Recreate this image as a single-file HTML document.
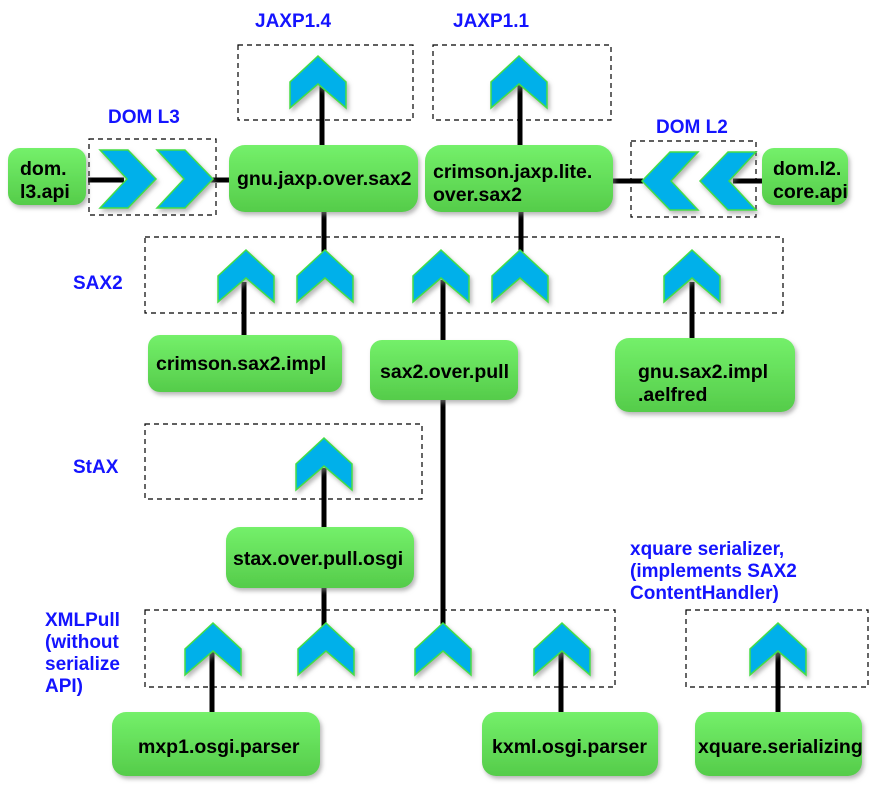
<!DOCTYPE html>
<html><head><style>
body{margin:0;background:#fff;width:890px;height:792px;overflow:hidden}
svg text{font-family:"Liberation Sans",sans-serif;font-weight:bold}
</style></head><body>
<svg width="890" height="792" xmlns="http://www.w3.org/2000/svg">
<defs>
<linearGradient id="g" x1="0" y1="0" x2="0" y2="1"><stop offset="0" stop-color="#74f06a"/><stop offset="1" stop-color="#55cc4a"/></linearGradient>
<filter id="s" x="-10%" y="-10%" width="130%" height="130%"><feDropShadow dx="2" dy="3" stdDeviation="2" flood-color="#888" flood-opacity="0.6"/></filter>
<g id="up"><path d="M0,0 L28,26 L28,52 L0,28 L-28,52 L-28,26 Z" fill="#00b0ea" stroke="#44dd44" stroke-width="1.5" filter="url(#s)"/></g>
<g id="rt"><path d="M0,0 L28,0 L56,29 L28,58 L0,58 L27,29 Z" fill="#00b0ea" stroke="#44dd44" stroke-width="1.5" filter="url(#s)"/></g>
<g id="lt"><path d="M56,0 L28,0 L0,29 L28,58 L56,58 L29,29 Z" fill="#00b0ea" stroke="#44dd44" stroke-width="1.5" filter="url(#s)"/></g>
</defs>
<g fill="none" stroke="#000" stroke-dasharray="5,4" stroke-width="1.2">
<rect x="238" y="45" width="175" height="75"/>
<rect x="433" y="45" width="178" height="75"/>
<rect x="89" y="139" width="127" height="76"/>
<rect x="631" y="141" width="125" height="76"/>
<rect x="145" y="237" width="638" height="76"/>
<rect x="145" y="424" width="277" height="75"/>
<rect x="145" y="610" width="470" height="77"/>
<rect x="686" y="610" width="182" height="77"/>
</g>
<g stroke="#000" stroke-width="5">
<line x1="88" y1="180" x2="124" y2="180"/><line x1="208" y1="180" x2="230" y2="180"/>
<line x1="322" y1="145" x2="322" y2="80"/><line x1="324" y1="212" x2="324" y2="252"/>
<line x1="520" y1="145" x2="520" y2="80"/><line x1="521" y1="212" x2="521" y2="252"/>
<line x1="612" y1="181" x2="643" y2="181"/><line x1="733" y1="181" x2="763" y2="181"/>
<line x1="244" y1="282" x2="244" y2="336"/>
<line x1="443" y1="280" x2="443" y2="341"/><line x1="443" y1="399" x2="443" y2="652"/>
<line x1="692" y1="282" x2="692" y2="339"/>
<line x1="324" y1="468" x2="324" y2="528"/><line x1="324" y1="587" x2="324" y2="642"/>
<line x1="212" y1="652" x2="212" y2="713"/><line x1="561" y1="652" x2="561" y2="713"/><line x1="778" y1="652" x2="778" y2="713"/>
</g>
<use href="#up" x="318" y="56"/><use href="#up" x="519" y="56"/>
<use href="#up" x="246" y="250"/><use href="#up" x="325" y="250"/><use href="#up" x="441" y="250"/><use href="#up" x="520" y="250"/><use href="#up" x="692" y="250"/>
<use href="#up" x="324" y="438"/>
<use href="#up" x="213" y="623"/><use href="#up" x="326" y="623"/><use href="#up" x="443" y="623"/><use href="#up" x="562" y="623"/><use href="#up" x="778" y="623"/>
<use href="#rt" x="100" y="150"/><use href="#rt" x="157" y="150"/>
<use href="#lt" x="642" y="152"/><use href="#lt" x="700" y="152"/>
<g fill="url(#g)" filter="url(#s)">
<rect x="8" y="148" width="78" height="57" rx="12"/>
<rect x="229" y="145" width="189" height="67" rx="16"/>
<rect x="425" y="145" width="188" height="67" rx="16"/>
<rect x="762" y="148" width="86" height="57" rx="12"/>
<rect x="148" y="335" width="194" height="57" rx="12"/>
<rect x="370" y="340" width="148" height="60" rx="12"/>
<rect x="615" y="338" width="180" height="74" rx="14"/>
<rect x="226" y="527" width="188" height="61" rx="14"/>
<rect x="112" y="712" width="208" height="64" rx="14"/>
<rect x="482" y="712" width="176" height="64" rx="14"/>
<rect x="695" y="712" width="167" height="64" rx="14"/>
</g>
<g font-size="19.5" fill="#000">
<text x="20" y="175">dom.</text><text x="20" y="198">l3.api</text>
<text x="237" y="185">gnu.jaxp.over.sax2</text>
<text x="433" y="178">crimson.jaxp.lite.</text><text x="433" y="201">over.sax2</text>
<text x="773" y="175">dom.l2.</text><text x="773" y="198">core.api</text>
<text x="156" y="370">crimson.sax2.impl</text>
<text x="380" y="378">sax2.over.pull</text>
<text x="638" y="378">gnu.sax2.impl</text><text x="638" y="401">.aelfred</text>
<text x="233" y="565">stax.over.pull.osgi</text>
<text x="138" y="753">mxp1.osgi.parser</text>
<text x="492" y="753">kxml.osgi.parser</text>
<text x="698" y="753">xquare.serializing</text>
</g>
<g font-size="19" fill="#1414ff">
<text x="255" y="27">JAXP1.4</text><text x="453" y="27">JAXP1.1</text>
<text x="108" y="123">DOM L3</text><text x="656" y="133">DOM L2</text>
<text x="73" y="289">SAX2</text><text x="73" y="473">StAX</text>
<text x="45" y="626">XMLPull</text><text x="45" y="648">(without</text><text x="45" y="670">serialize</text><text x="45" y="692">API)</text>
<text x="630" y="555">xquare serializer,</text><text x="630" y="577">(implements SAX2</text><text x="630" y="599">ContentHandler)</text>
</g>
</svg>
</body></html>
